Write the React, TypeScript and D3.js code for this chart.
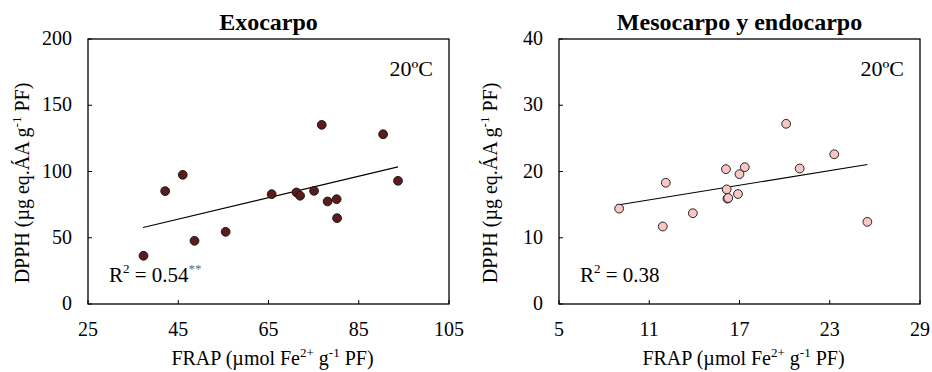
// two scatter panels, FRAP vs DPPH
import React from 'react';
import * as d3 from 'd3';

// Exocarpo
const exoFrap = [37.3, 42.1, 46.0, 48.6, 55.5, 65.7, 71.2, 72.0, 75.1, 76.8, 78.1, 80.1, 80.2, 90.4, 93.7];
const exoDpph = [36.4, 85.2, 97.5, 47.7, 54.5, 82.9, 84.2, 81.7, 85.4, 135.2, 77.4, 79.1, 64.8, 128.1, 93.0];
const exoFit = [[37.2, 57.8], [93.7, 103.5]];

// Mesocarpo y endocarpo
const mesoFrap = [9.0, 11.9, 12.1, 13.9, 16.1, 16.15, 16.2, 16.25, 16.9, 17.0, 17.35, 20.1, 21.0, 23.3, 25.5];
const mesoDpph = [14.4, 11.7, 18.3, 13.7, 20.35, 17.3, 15.9, 16.0, 16.6, 19.6, 20.65, 27.2, 20.45, 22.6, 12.4];
const mesoFit = [[8.8, 14.9], [25.5, 21.05]];

const exoXTicks = [25, 45, 65, 85, 105];
const exoYTicks = [0, 50, 100, 150, 200];
const mesoXTicks = [5, 11, 17, 23, 29];
const mesoYTicks = [0, 10, 20, 30, 40];

const width = 932;
const height = 372;
const top = 39;
const bottom = 304;
const serif = { fontFamily: "'Liberation Serif', 'DejaVu Serif', serif" };

interface PanelProps {
  title: string;
  left: number;
  right: number;
  xs: number[];
  ys: number[];
  fit: number[][];
  xTicks: number[];
  yTicks: number[];
  fill: string;
  r2: string;
  stars?: string;
  yLabelX: number;
}

const Panel: React.FC<PanelProps> = ({ title, left, right, xs, ys, fit, xTicks, yTicks, fill, r2, stars, yLabelX }) => {
  const x = d3.scaleLinear().domain([xTicks[0], xTicks[xTicks.length - 1]]).range([left, right]);
  const y = d3.scaleLinear().domain([yTicks[0], yTicks[yTicks.length - 1]]).range([bottom, top]);
  const line = d3.line<number[]>().x(d => x(d[0])).y(d => y(d[1]));
  const mid = (left + right) / 2;

  return (
    <g style={serif} fill="#000">
      <text style={serif} x={mid} y={30} textAnchor="middle" fontWeight="bold" fontSize={24}>{title}</text>
      {/* ejes */}
      <rect x={left} y={top} width={right - left} height={bottom - top} fill="none" stroke="#000" strokeWidth={1.3} />
      {yTicks.map(t => (
        <g key={'y' + t}>
          <line x1={left} x2={left + 4} y1={y(t)} y2={y(t)} stroke="#000" />
          <text style={serif} x={left - 16} y={y(t) + 6} textAnchor="end" fontSize={20}>{t}</text>
        </g>
      ))}
      {xTicks.map(t => (
        <g key={'x' + t}>
          <line x1={x(t)} x2={x(t)} y1={bottom} y2={bottom - 4} stroke="#000" />
          <text style={serif} x={x(t)} y={336} textAnchor="middle" fontSize={20}>{t}</text>
        </g>
      ))}
      <text style={serif} x={mid + 4} y={365} textAnchor="middle" fontSize={20}>
        FRAP (µmol Fe<tspan dy={-8} fontSize={13}>2+</tspan><tspan dy={8}> g</tspan>
        <tspan dy={-8} fontSize={13}>-1</tspan><tspan dy={8}> PF)</tspan>
      </text>
      <text style={serif} transform={`translate(${yLabelX},183) rotate(-90)`} textAnchor="middle" fontSize={20}>
        DPPH (µg eq.ÁA g<tspan dy={-8} fontSize={13}>-1</tspan><tspan dy={8}> PF)</tspan>
      </text>
      <path d={line(fit) || ''} fill="none" stroke="#000" strokeWidth={1.1} />
      {xs.map((v, i) => (
        <circle key={i} cx={x(v)} cy={y(ys[i])} r={4.4} fill={fill} stroke="#111" strokeWidth={0.9} />
      ))}
      <text style={serif} x={right - 16} y={76} textAnchor="end" fontSize={22}>20ºC</text>
      <text style={serif} x={left + 21} y={282} fontSize={21}>
        R<tspan dy={-9} fontSize={13}>2</tspan><tspan dy={9}> = {r2}</tspan>
        {stars && <tspan dy={-9} fontSize={13} fill="#666">{stars}</tspan>}
      </text>
    </g>
  );
};

const App: React.FC = () => (
  <div style={{ position: 'absolute', left: 0, top: 0 }}>
    <svg width={width} height={height} style={{ display: 'block', background: '#fff' }}>
      <Panel title="Exocarpo" left={88} right={449} xs={exoFrap} ys={exoDpph} fit={exoFit}
        xTicks={exoXTicks} yTicks={exoYTicks} fill="#5e1b1b" r2="0.54" stars="**" yLabelX={29} />
      <Panel title="Mesocarpo y endocarpo" left={559} right={920} xs={mesoFrap} ys={mesoDpph} fit={mesoFit}
        xTicks={mesoXTicks} yTicks={mesoYTicks} fill="#f9c6c6" r2="0.38" yLabelX={497} />
    </svg>
  </div>
);

export default App;
